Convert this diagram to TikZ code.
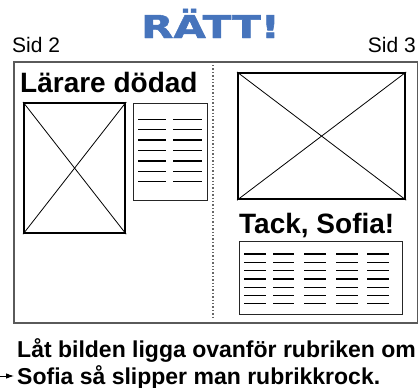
\documentclass[tikz,border=0pt]{standalone}
\usepackage{fontspec}
\setmainfont{Liberation Sans}
\newfontfamily\heavyfont[FakeBold=1.5]{DejaVu Sans}
\usetikzlibrary{arrows.meta}
\definecolor{rattblue}{HTML}{4674BC}
\definecolor{framegray}{HTML}{5A5A5A}
\begin{document}
\begin{tikzpicture}[x=1pt,y=-1pt,
  pagebox/.style={draw=framegray, line width=1.6pt, inner sep=0pt, anchor=north west},
  imgbox/.style={draw=black, line width=2.2pt, inner sep=0pt, anchor=north west},
  txtbox/.style={draw=black!85, line width=1.4pt, inner sep=0pt, anchor=north west},
  cross/.style={draw=black, line width=0.8pt},
  textline/.style={draw=black, line width=1.3pt},
  divider/.style={draw=black!60, line width=1.4pt, dotted},
  headline/.style={inner sep=0pt, anchor=base west, font=\bfseries\fontsize{28}{28}\selectfont},
  sidlabel/.style={inner sep=0pt, font=\fontsize{21}{21}\selectfont},
  caption/.style={inner sep=0pt, anchor=base west, font=\bfseries\fontsize{23}{23}\selectfont}
]
\useasboundingbox (0,0) rectangle (418,388);

% title
\node[inner sep=0pt, anchor=base west, text=rattblue,
      font=\heavyfont\bfseries\fontsize{31.5}{31.5}\selectfont] (title) at (141,38)
      {\scalebox{1.33}[1]{RÄTT!}};
\node[sidlabel, anchor=base west] (sid2) at (12,52) {Sid 2};
\node[sidlabel, anchor=base east] (sid3) at (416,52) {Sid 3};

% page frame
\node[pagebox, minimum width=404pt, minimum height=261pt] (frame) at (13,61) {};
\coordinate (divtop) at (213,65);
\coordinate (divbot) at (213,318);
\draw[divider] (divtop) -- (divbot);

% left page
\node[headline] (lhead) at (20,92) {Lärare dödad};
\node[imgbox, minimum width=101pt, minimum height=130pt] (limg) at (23,102) {};
\draw[cross] (limg.north west) -- (limg.south east);
\draw[cross] (limg.north east) -- (limg.south west);
\node[txtbox, minimum width=74pt, minimum height=97pt] (ltxt) at (133,103) {};
\foreach \k in {0,...,6} {
  \pgfmathsetmacro{\yy}{119.3+10.4*\k}
  \draw[textline] (138,\yy) -- (166,\yy);
  \draw[textline] (173,\yy) -- (202,\yy);
}

% right page
\node[imgbox, minimum width=167pt, minimum height=126pt] (rimg) at (237,72) {};
\draw[cross] (rimg.north west) -- (rimg.south east);
\draw[cross] (rimg.north east) -- (rimg.south west);
\node[headline] (rhead) at (239,233) {Tack, Sofia!};
\node[txtbox, minimum width=163pt, minimum height=73pt] (rtxt) at (239,241) {};
\foreach \k in {0,...,6} {
  \pgfmathsetmacro{\yy}{254+8.3*\k}
  \foreach \xa/\xb in {244/266,273/294,304/326,336/358,367/389} {
    \draw[textline] (\xa,\yy) -- (\xb,\yy);
  }
}

% caption
\node[caption] (cap1) at (17,357) {Låt bilden ligga ovanför rubriken om};
\node[caption] (cap2) at (17,384) {Sofia så slipper man rubrikkrock.};
\coordinate (arrstart) at (0,376);
\coordinate (arrend) at (14,376);
\draw[line width=0.9pt, -{Latex[length=8pt,width=5.5pt]}] (arrstart) -- (arrend);
\end{tikzpicture}
\end{document}
